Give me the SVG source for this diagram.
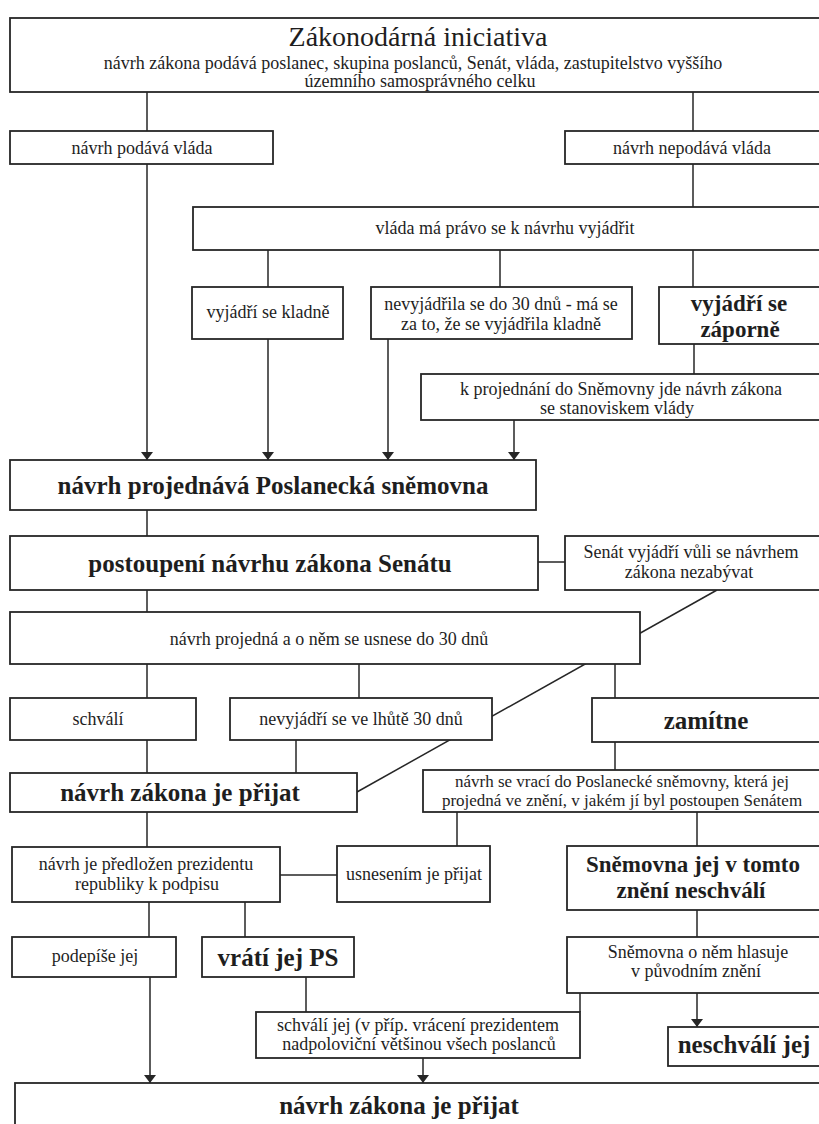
<svg xmlns="http://www.w3.org/2000/svg" width="819" height="1124" viewBox="0 0 819 1124">
<style>
.b{fill:#fff;stroke:#262626;stroke-width:1.8}
text{font-family:"Liberation Serif","DejaVu Serif","Noto Serif","Times New Roman",serif;fill:#1e1e1e;text-anchor:middle}
.t{font-size:18px}
.t2{font-size:17px}
.tb{font-size:25px;font-weight:bold}
.tb2{font-size:23px;font-weight:bold}
.ttl{font-size:28px}
.c{stroke:#262626;stroke-width:1.5;fill:none}
.a{stroke:#262626;stroke-width:1.5;fill:none;marker-end:url(#ah)}
</style>
<defs>
<marker id="ah" viewBox="0 0 8 12" refX="8" refY="6" markerWidth="8" markerHeight="12" markerUnits="userSpaceOnUse" orient="auto">
<path d="M0,0 L8,6 L0,12 z" fill="#262626"/>
</marker>
</defs>
<rect width="819" height="1124" fill="#fff"/>
<g id="connectors">
<line class="c" x1="147" y1="92" x2="147" y2="131"/>
<line class="c" x1="693" y1="92" x2="693" y2="131"/>
<line class="a" x1="147" y1="164" x2="147" y2="460"/>
<line class="c" x1="693" y1="164" x2="693" y2="207"/>
<line class="c" x1="268" y1="250" x2="268" y2="287"/>
<line class="c" x1="500" y1="250" x2="500" y2="287"/>
<line class="c" x1="693" y1="250" x2="693" y2="287"/>
<line class="a" x1="268" y1="339" x2="268" y2="460"/>
<line class="a" x1="388" y1="339" x2="388" y2="460"/>
<line class="c" x1="694" y1="344" x2="694" y2="374"/>
<line class="a" x1="514" y1="420" x2="514" y2="460"/>
<line class="c" x1="147" y1="510" x2="147" y2="536"/>
<line class="c" x1="538" y1="562" x2="565" y2="562"/>
<line class="c" x1="147" y1="590" x2="147" y2="612"/>
<line class="c" x1="717" y1="590" x2="357" y2="792"/>
<line class="c" x1="147" y1="664" x2="147" y2="698"/>
<line class="c" x1="359" y1="664" x2="359" y2="698"/>
<line class="c" x1="615" y1="664" x2="615" y2="698"/>
<line class="c" x1="147" y1="740" x2="147" y2="773"/>
<line class="c" x1="296" y1="740" x2="296" y2="773"/>
<line class="c" x1="615" y1="742" x2="615" y2="770"/>
<line class="c" x1="147" y1="812" x2="147" y2="847"/>
<line class="c" x1="457" y1="812" x2="457" y2="846"/>
<line class="c" x1="697" y1="812" x2="697" y2="846"/>
<line class="c" x1="280" y1="875" x2="337" y2="875"/>
<line class="c" x1="149" y1="902" x2="149" y2="937"/>
<line class="c" x1="245" y1="902" x2="245" y2="937"/>
<line class="c" x1="697" y1="910" x2="697" y2="937"/>
<line class="a" x1="150" y1="977" x2="150" y2="1083"/>
<line class="c" x1="306" y1="977" x2="306" y2="1012"/>
<line class="c" x1="580" y1="993" x2="580" y2="1012"/>
<line class="a" x1="697" y1="993" x2="697" y2="1027"/>
<line class="a" x1="423" y1="1058" x2="423" y2="1083"/>
</g>
<g id="n1"><rect class="b" x="10" y="18" width="820" height="74"/>
<text class="ttl" x="418" y="46">Zákonodárná iniciativa</text>
<text class="t" x="413" y="69">návrh zákona podává poslanec, skupina poslanců, Senát, vláda, zastupitelstvo vyššího</text>
<text class="t" x="420" y="87">územního samosprávného celku</text></g>
<g id="n2"><rect class="b" x="10" y="131" width="263" height="33"/><text class="t" x="142" y="154">návrh podává vláda</text></g>
<g id="n3"><rect class="b" x="565" y="131" width="265" height="33"/><text class="t" x="692" y="154">návrh nepodává vláda</text></g>
<g id="n4"><rect class="b" x="193" y="207" width="637" height="43"/><text class="t" x="505" y="234">vláda má právo se k návrhu vyjádřit</text></g>
<g id="n5"><rect class="b" x="192" y="287" width="151" height="52"/><text class="t" x="268" y="318">vyjádří se kladně</text></g>
<g id="n6"><rect class="b" x="371" y="287" width="261" height="52"/><text class="t" x="501" y="310">nevyjádřila se do 30 dnů - má se</text><text class="t" x="501" y="330">za to, že se vyjádřila kladně</text></g>
<g id="n7"><rect class="b" x="659" y="287" width="171" height="57"/><text class="tb2" x="739" y="311">vyjádří se</text><text class="tb2" x="740" y="337">záporně</text></g>
<g id="n8"><rect class="b" x="421" y="374" width="409" height="46"/><text class="t" x="621" y="395">k projednání do Sněmovny jde návrh zákona</text><text class="t" x="617" y="414">se stanoviskem vlády</text></g>
<g id="n9"><rect class="b" x="10" y="460" width="526" height="50"/><text class="tb" x="273" y="494">návrh projednává Poslanecká sněmovna</text></g>
<g id="n10"><rect class="b" x="10" y="536" width="528" height="54"/><text class="tb" x="270" y="572">postoupení návrhu zákona Senátu</text></g>
<g id="n11"><rect class="b" x="565" y="536" width="265" height="54"/><text class="t" x="691" y="558">Senát vyjádří vůli se návrhem</text><text class="t" x="689" y="578">zákona nezabývat</text></g>
<g id="n12"><rect class="b" x="10" y="612" width="630" height="52"/><text class="t" x="329" y="645">návrh projedná a o něm se usnese do 30 dnů</text></g>
<g id="n13"><rect class="b" x="10" y="698" width="186" height="42"/><text class="t" x="98" y="725">schválí</text></g>
<g id="n14"><rect class="b" x="230" y="698" width="262" height="42"/><text class="t" x="361" y="725">nevyjádří se ve lhůtě 30 dnů</text></g>
<g id="n15"><rect class="b" x="592" y="698" width="238" height="44"/><text class="tb" x="706" y="729">zamítne</text></g>
<g id="n16"><rect class="b" x="10" y="773" width="347" height="39"/><text class="tb" x="180" y="801">návrh zákona je přijat</text></g>
<g id="n17"><rect class="b" x="423" y="770" width="407" height="42"/><text class="t2" x="622" y="787">návrh se vrací do Poslanecké sněmovny, která jej</text><text class="t2" x="622" y="806">projedná ve znění, v jakém jí byl postoupen Senátem</text></g>
<g id="n18"><rect class="b" x="12" y="847" width="268" height="55"/><text class="t" x="146" y="870">návrh je předložen prezidentu</text><text class="t" x="147" y="890">republiky k podpisu</text></g>
<g id="n19"><rect class="b" x="337" y="846" width="153" height="56"/><text class="t" x="414" y="880">usnesením je přijat</text></g>
<g id="n20"><rect class="b" x="567" y="846" width="263" height="64"/><text class="tb2" x="693" y="872">Sněmovna jej v tomto</text><text class="tb2" x="691" y="898">znění neschválí</text></g>
<g id="n21"><rect class="b" x="12" y="937" width="164" height="40"/><text class="t" x="95" y="962">podepíše jej</text></g>
<g id="n22"><rect class="b" x="202" y="937" width="152" height="40"/><text class="tb" x="278" y="966">vrátí jej PS</text></g>
<g id="n23"><rect class="b" x="567" y="937" width="263" height="56"/><text class="t" x="698" y="958">Sněmovna o něm hlasuje</text><text class="t" x="696" y="977">v původním znění</text></g>
<g id="n24"><rect class="b" x="256" y="1012" width="324" height="46"/><text class="t" x="418" y="1031">schválí jej (v příp. vrácení prezidentem</text><text class="t" x="419" y="1050">nadpoloviční většinou všech poslanců</text></g>
<g id="n25"><rect class="b" x="668" y="1027" width="162" height="39"/><text class="tb" x="744" y="1053">neschválí jej</text></g>
<g id="n26"><rect class="b" x="15" y="1083" width="815" height="60"/><text class="tb" x="399" y="1114">návrh zákona je přijat</text></g>
</svg>
